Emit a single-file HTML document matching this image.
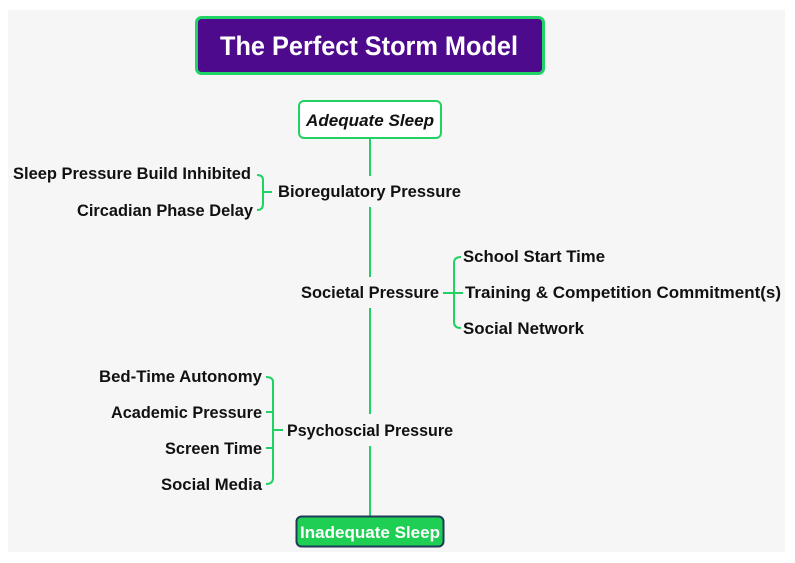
<!DOCTYPE html>
<html><head><style>
html,body{margin:0;padding:0;background:#fff;}
svg{display:block;}
text{font-family:"Liberation Sans",sans-serif;font-weight:bold;fill:#111;font-size:17px;}
</style></head><body>
<svg width="795" height="563" viewBox="0 0 795 563" xmlns="http://www.w3.org/2000/svg">
<rect x="8" y="10" width="777" height="542" fill="#f6f6f6"/>
<rect x="196.5" y="17.5" width="347" height="56" rx="5" fill="#4d0a8c" stroke="#1fd464" stroke-width="3"/>
<text x="220" y="55" style="fill:#fff;font-size:27px" textLength="298" lengthAdjust="spacingAndGlyphs">The Perfect Storm Model</text>
<g stroke="#22d164" stroke-width="2" fill="none">
<line x1="370" y1="138" x2="370" y2="176"/>
<line x1="370" y1="207" x2="370" y2="277"/>
<line x1="370" y1="308" x2="370" y2="414"/>
<line x1="370" y1="446" x2="370" y2="516"/>
<path d="M257 175 Q263 175 263 180 L263 204 Q263 210 257 210"/>
<line x1="263" y1="192" x2="272" y2="192"/>
<path d="M461 257 Q454 257 454 263 L454 322 Q454 328 461 328"/>
<line x1="443" y1="293" x2="463" y2="293"/>
<path d="M266 377 Q273 377 273 382 L273 478 Q273 484 266 484"/>
<line x1="266" y1="412" x2="273" y2="412"/>
<line x1="266" y1="448" x2="273" y2="448"/>
<line x1="273" y1="430" x2="283" y2="430"/>
</g>
<rect x="299" y="101" width="142" height="37" rx="5" fill="#fff" stroke="#22d164" stroke-width="2"/>
<text x="306" y="126" font-style="italic" textLength="128" lengthAdjust="spacingAndGlyphs">Adequate Sleep</text>
<rect x="296.5" y="516.5" width="147" height="30" rx="5" fill="#1ecf54" stroke="#1f3b57" stroke-width="2"/>
<text x="300" y="538" style="fill:#fff" textLength="140" lengthAdjust="spacingAndGlyphs">Inadequate Sleep</text>
<text x="13" y="179" textLength="238" lengthAdjust="spacingAndGlyphs">Sleep Pressure Build Inhibited</text>
<text x="77" y="216" textLength="176" lengthAdjust="spacingAndGlyphs">Circadian Phase Delay</text>
<text x="278" y="197" textLength="183" lengthAdjust="spacingAndGlyphs">Bioregulatory Pressure</text>
<text x="301" y="298" textLength="138" lengthAdjust="spacingAndGlyphs">Societal Pressure</text>
<text x="463" y="262" textLength="142" lengthAdjust="spacingAndGlyphs">School Start Time</text>
<text x="465" y="298" textLength="316" lengthAdjust="spacingAndGlyphs">Training &amp; Competition Commitment(s)</text>
<text x="463" y="334" textLength="121" lengthAdjust="spacingAndGlyphs">Social Network</text>
<text x="99" y="382" textLength="163" lengthAdjust="spacingAndGlyphs">Bed-Time Autonomy</text>
<text x="111" y="418" textLength="151" lengthAdjust="spacingAndGlyphs">Academic Pressure</text>
<text x="165" y="454" textLength="97" lengthAdjust="spacingAndGlyphs">Screen Time</text>
<text x="161" y="490" textLength="101" lengthAdjust="spacingAndGlyphs">Social Media</text>
<text x="287" y="436" textLength="166" lengthAdjust="spacingAndGlyphs">Psychoscial Pressure</text>
</svg>
</body></html>
